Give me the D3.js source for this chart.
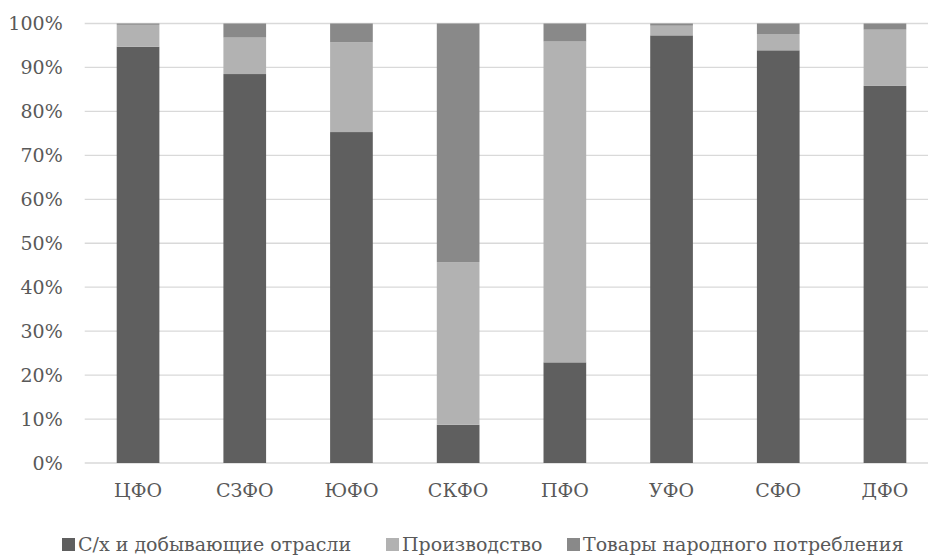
<!DOCTYPE html>
<html>
<head>
<meta charset="utf-8">
<script src="https://cdn.jsdelivr.net/npm/d3@7"></script>
<style>
  html, body { margin: 0; padding: 0; background: #fff; }
</style>
</head>
<body>
<svg id="chart" width="928" height="557"></svg>
<script>
// Federal districts
const categories = ["ЦФО", "СЗФО", "ЮФО", "СКФО", "ПФО", "УФО", "СФО", "ДФО"];
// Shares of each sector, %
const agriMining = [94.7, 88.5, 75.3, 8.7, 22.9, 97.3, 93.9, 85.8];
const manufacturing = [5.0, 8.3, 20.4, 37.0, 73.0, 2.2, 3.7, 12.8];
const consumerGoods = [0.3, 3.2, 4.3, 54.3, 4.1, 0.5, 2.4, 1.4];
const seriesNames = ["С/х и добывающие отрасли", "Производство", "Товары народного потребления"];
const yTicks = [0, 10, 20, 30, 40, 50, 60, 70, 80, 90, 100];

const colors = ["#5f5f5f", "#b2b2b2", "#898989"];
const textColor = "#595959";
const FONT = "'DejaVu Serif', serif";
const FS = 19;

const svg = d3.select("#chart");
const W = 928, H = 557;
const plotLeft = 84.7, plotRight = 938.3, plotTop = 23.5, plotBottom = 463;

const x = d3.scaleBand().domain(categories)
  .range([plotLeft, plotRight]).paddingInner(0.6).paddingOuter(0.3);
const y = d3.scaleLinear().domain([0, 100]).range([plotBottom, plotTop]);

// gridlines
svg.append("g").selectAll("line").data(yTicks).join("line")
  .attr("x1", plotLeft).attr("x2", W)
  .attr("y1", d => y(d)).attr("y2", d => y(d))
  .attr("stroke", "#d9d9d9").attr("stroke-width", 1.3);

// stacked bars
const rows = categories.map((c, i) => ({ cat: c, s0: agriMining[i], s1: manufacturing[i], s2: consumerGoods[i] }));
const layers = d3.stack().keys(["s0", "s1", "s2"])(rows);

svg.append("g").selectAll("g").data(layers).join("g")
  .attr("fill", (d, i) => colors[i])
  .selectAll("rect").data(d => d).join("rect")
  .attr("x", d => x(d.data.cat))
  .attr("width", x.bandwidth())
  .attr("y", d => y(d[1]))
  .attr("height", d => y(d[0]) - y(d[1]));

// y axis labels
const ya = svg.append("g").attr("transform", `translate(${plotLeft},0)`)
  .call(d3.axisLeft(y).tickValues(yTicks).tickFormat(d => d + "%").tickSize(0).tickPadding(22));
ya.select(".domain").remove();
ya.attr("font-family", FONT).attr("font-size", FS);
ya.selectAll("text").attr("fill", textColor);

// x axis labels
const xa = svg.append("g").attr("transform", `translate(0,${plotBottom})`)
  .call(d3.axisBottom(x).tickSize(0).tickPadding(21));
xa.select(".domain").remove();
xa.attr("font-family", FONT).attr("font-size", FS);
xa.selectAll("text").attr("fill", textColor);

// legend
const legendX = [62, 386, 567];
const lg = svg.append("g").attr("font-family", FONT).attr("font-size", FS)
  .selectAll("g").data(seriesNames).join("g")
  .attr("transform", (d, i) => `translate(${legendX[i]},551)`);
lg.append("rect").attr("x", 0).attr("y", -13).attr("width", 13).attr("height", 13)
  .attr("fill", (d, i) => colors[i]);
lg.append("text").attr("x", 16).attr("y", 0).text(d => d)
  .attr("fill", textColor);
</script>
</body>
</html>
